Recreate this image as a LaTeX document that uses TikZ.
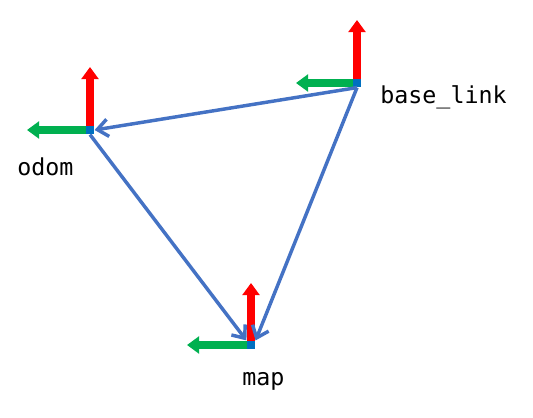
\documentclass[tikz,border=0pt]{standalone}
\usepackage{fontspec}
\setmonofont{DejaVu Sans Mono}
\usetikzlibrary{arrows.meta}
\definecolor{axisred}{RGB}{255,0,0}
\definecolor{axisgreen}{RGB}{0,176,80}
\definecolor{originblue}{RGB}{0,112,192}
\definecolor{linkblue}{RGB}{68,114,196}
\tikzset{
  axis/.style={line width=6pt,-{Triangle[length=9pt,width=12.5pt]}},
  origin/.style={fill=originblue,draw=none,inner sep=0pt,minimum size=6.5pt},
  link/.style={draw=linkblue,line width=2.6pt,-{Straight Barb[length=8pt,width=13pt]}},
  framename/.style={anchor=base west,inner sep=0pt,font=\ttfamily\fontsize{17.5}{20}\selectfont}
}
\begin{document}
\begin{tikzpicture}[x=0.75pt,y=0.75pt,yscale=-1,xscale=1]
\useasboundingbox (0,0) rectangle (533,418);

%Frame odom
\draw [axis,axisred] (90,130) -- (90,67) ;
\draw [axis,axisgreen] (90,130) -- (27,130) ;
\node [origin] (odom) at (90,130) {};
%Frame base_link
\draw [axis,axisred] (357,83) -- (357,20) ;
\draw [axis,axisgreen] (357,83) -- (296,83) ;
\node [origin] (base) at (357,83) {};
%Frame map
\draw [axis,axisred] (251,345) -- (251,283) ;
\draw [axis,axisgreen] (251,345) -- (187,345) ;
\node [origin] (map) at (251,345) {};

%Straight Lines
\draw [link] (base.south) -- (odom.east) ;
\draw [link] (base.south) -- (map.north east) ;
\draw [link] (odom.south) -- (map.north west) ;

% Text Node
\node [framename] (odomlabel) at (17,175) {odom};
% Text Node
\node [framename] (baselabel) at (380,103) {base\_link};
% Text Node
\node [framename] (maplabel) at (242,385) {map};

\end{tikzpicture}
\end{document}
